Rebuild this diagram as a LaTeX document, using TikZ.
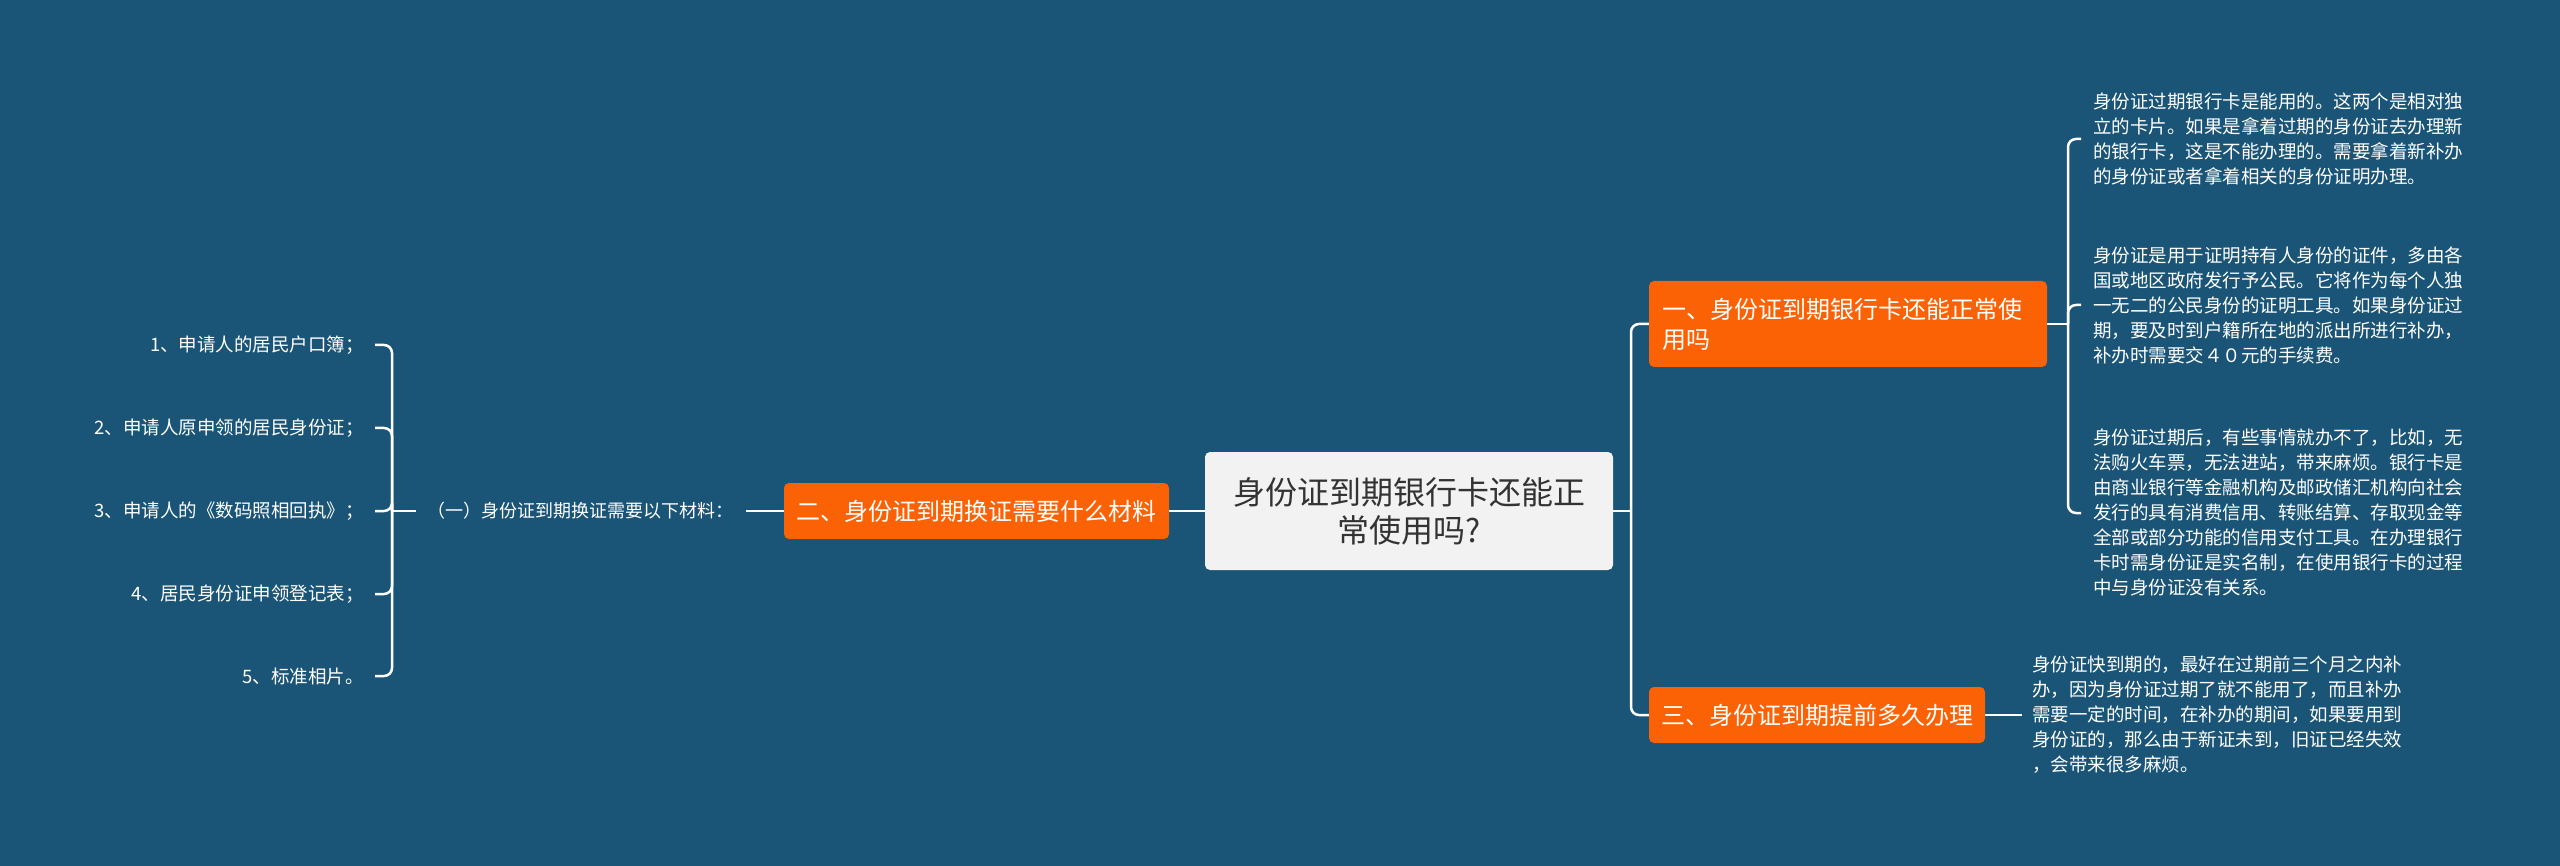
\documentclass[tikz,border=0pt]{standalone}
\usepackage{fontspec}
\setmainfont{Noto Sans CJK SC}
\usepackage{tikz}
\usetikzlibrary{positioning}
\definecolor{bgblue}{RGB}{26,84,119}
\definecolor{rootgray}{RGB}{242,242,242}
\definecolor{textdark}{RGB}{51,51,51}
\definecolor{topicorange}{RGB}{250,98,5}
\begin{document}
\begin{tikzpicture}[x=1pt,y=-1pt,
root/.style={fill=rootgray,text=textdark,rounded corners=5pt,align=center,
  font=\fontsize{32}{38}\selectfont,minimum width=408pt,minimum height=118pt,inner sep=0pt},
topic/.style={fill=topicorange,text=white,rounded corners=5pt,
  font=\fontsize{24}{30}\selectfont,minimum height=56pt,inner xsep=12pt,inner ysep=0pt},
leaf/.style={text=white,align=left,font=\fontsize{18.5}{25}\selectfont,inner xsep=12pt,inner ysep=0pt},
item/.style={leaf,align=right,inner xsep=11pt},
link/.style={draw=white,line width=2.5pt,rounded corners=8pt}]
\useasboundingbox[fill=bgblue] (0,0) rectangle (2560,866);

\node[root] (root) at (1409,511) {身份证到期银行卡还能正\\常使用吗?};
\node[topic,minimum width=385pt] (mat) at (976.5,511) {二、身份证到期换证需要什么材料};
\node[topic,text width=372pt,align=left,inner xsep=13pt,minimum height=86pt] (q1) at (1848,324)
  {一、身份证到期银行卡还能正常使\\用吗};
\node[topic,minimum width=336pt] (q3) at (1817,715) {三、身份证到期提前多久办理};

\node[leaf,font=\fontsize{18}{25}\selectfont,inner xsep=12pt,anchor=east] (matlist) at (746,511) {（一）身份证到期换证需要以下材料：};
\node[item,anchor=east] (i1) at (375,345) {1、申请人的居民户口簿；};
\node[item,anchor=east] (i2) at (375,428) {2、申请人原申领的居民身份证；};
\node[item,anchor=east] (i3) at (375,511) {3、申请人的《数码照相回执》；};
\node[item,anchor=east] (i4) at (375,594) {4、居民身份证申领登记表；};
\node[item,anchor=east] (i5) at (375,676) {5、标准相片。};

\node[leaf,anchor=west] (t1) at (2081,139) {身份证过期银行卡是能用的。这两个是相对独\\立的卡片。如果是拿着过期的身份证去办理新\\的银行卡，这是不能办理的。需要拿着新补办\\的身份证或者拿着相关的身份证明办理。};
\node[leaf,anchor=west] (t2) at (2081,305) {身份证是用于证明持有人身份的证件，多由各\\国或地区政府发行予公民。它将作为每个人独\\一无二的公民身份的证明工具。如果身份证过\\期，要及时到户籍所在地的派出所进行补办，\\补办时需要交４０元的手续费。};
\node[leaf,anchor=west] (t3) at (2081,513) {身份证过期后，有些事情就办不了，比如，无\\法购火车票，无法进站，带来麻烦。银行卡是\\由商业银行等金融机构及邮政储汇机构向社会\\发行的具有消费信用、转账结算、存取现金等\\全部或部分功能的信用支付工具。在办理银行\\卡时需身份证是实名制，在使用银行卡的过程\\中与身份证没有关系。};
\node[leaf,anchor=west,inner xsep=10pt] (t4) at (2022,715) {身份证快到期的，最好在过期前三个月之内补\\办，因为身份证过期了就不能用了，而且补办\\需要一定的时间，在补办的期间，如果要用到\\身份证的，那么由于新证未到，旧证已经失效\\，会带来很多麻烦。};

\coordinate (rj) at (1631,511);
\coordinate (lj) at (392,511);
\coordinate (qj) at (2068,324);

\draw[link] (root.west) -- (mat.east);
\draw[link] (mat.west) -- (matlist.east);
\draw[link] (matlist.west) -- (lj);
\foreach \n in {i1,i2,i3,i4,i5}
  \draw[link] (lj) |- (\n.east);

\draw[link] (root.east) -- (rj);
\draw[link] (rj) |- (q1.west);
\draw[link] (rj) |- (q3.west);

\draw[link] (q1.east) -- (qj);
\foreach \n in {t1,t2,t3}
  \draw[link] (qj) |- (\n.west);
\draw[link] (q3.east) -- (t4.west);
\end{tikzpicture}
\end{document}
